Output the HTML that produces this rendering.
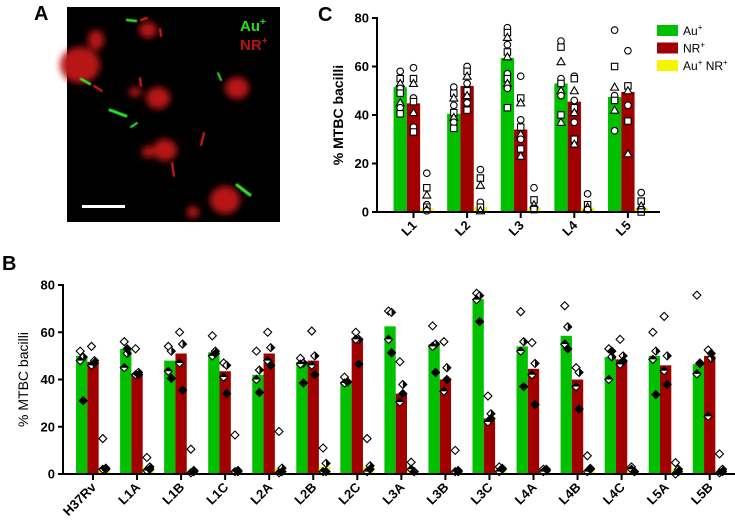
<!DOCTYPE html>
<html><head><meta charset="utf-8"><style>
body{margin:0;background:#fff;width:735px;height:530px;overflow:hidden}
svg{display:block;font-family:"Liberation Sans",Arial,sans-serif}
</style></head><body>
<svg id="fig" width="735" height="530" viewBox="0 0 735 530">
<defs>
<filter id="blur3"><feGaussianBlur stdDeviation="3.5"/></filter>
<filter id="blur1"><feGaussianBlur stdDeviation="0.6"/></filter>
</defs>
<g>
<text x="34" y="20" font-size="20" font-weight="bold">A</text>
<rect x="67" y="7" width="213" height="215" fill="#000"/>
<g filter="url(#blur3)" fill="#b81212">
<ellipse cx="80" cy="65" rx="20" ry="18"/><ellipse cx="96" cy="40" rx="8" ry="10"/>
<ellipse cx="148" cy="30" rx="9" ry="8"/><ellipse cx="158" cy="98" rx="12" ry="11"/>
<ellipse cx="165" cy="150" rx="12" ry="11"/><ellipse cx="148" cy="152" rx="6" ry="6"/>
<ellipse cx="237" cy="88" rx="12" ry="11"/><ellipse cx="225" cy="200" rx="15" ry="14"/>
<ellipse cx="193" cy="212" rx="6" ry="6"/><ellipse cx="135" cy="92" rx="6" ry="5"/>
</g>
<g stroke-linecap="round" filter="url(#blur1)">
<line x1="127" y1="20" x2="136" y2="21" stroke="#2ee62e" stroke-width="2.5"/>
<line x1="141" y1="20" x2="147" y2="18" stroke="#e02020" stroke-width="2"/>
<line x1="160" y1="29" x2="161" y2="36" stroke="#e02020" stroke-width="2"/>
<line x1="81" y1="79" x2="90" y2="84" stroke="#2ee62e" stroke-width="2.5"/>
<line x1="94" y1="86" x2="102" y2="91" stroke="#e02020" stroke-width="2"/>
<line x1="140" y1="78" x2="141" y2="86" stroke="#e02020" stroke-width="2"/>
<line x1="110" y1="110" x2="126" y2="116" stroke="#2ee62e" stroke-width="3"/>
<line x1="131" y1="127" x2="137" y2="123" stroke="#2ee62e" stroke-width="2"/>
<line x1="218" y1="73" x2="221" y2="80" stroke="#2ee62e" stroke-width="2"/>
<line x1="204" y1="133" x2="201" y2="145" stroke="#e02020" stroke-width="2"/>
<line x1="172" y1="163" x2="174" y2="176" stroke="#e02020" stroke-width="2"/>
<line x1="237" y1="185" x2="250" y2="195" stroke="#2ee62e" stroke-width="3"/>
</g>
<rect x="82" y="205" width="43" height="3" fill="#fff"/>
<text x="240" y="31" font-size="15" font-weight="bold" fill="#22e022">Au<tspan font-size="10" dy="-6">+</tspan></text>
<text x="240" y="50" font-size="15" font-weight="bold" fill="#b81212">NR<tspan font-size="10" dy="-6">+</tspan></text>
</g>
<text x="318" y="21" font-size="20" font-weight="bold">C</text>
<text x="2" y="270" font-size="20" font-weight="bold">B</text>
<g id="chartC"></g>
<g id="chartB"></g>
</svg>
<script>
// ---- Panel C data ----
const catsC = ["L1","L2","L3","L4","L5"];
const auC = [51.5,40.5,63.5,53,47.5];
const nrC = [44.8,52,34,45.5,49.5];
const bothC = [1.5,2,1.5,1.8,1.5];
const auPtsC = [[58,55,53,51,49,45,43,40.5],[51.5,49,47,44,41,39,37,34.5],[76,74,72,69,66,64,57,55,53,51,43],[70.5,68,62,55,53,50,48,40,37],[75,60,51.5,48,46,42,33.5]];
const nrPtsC = [[59.5,55,53,47,45.5,41,35,33],[60,58,56,53,50,48,45,42],[56,47,45,38,35,32,30,26,23],[56,55,50,46,43,41,37,30,28],[66.5,52,50,44,37.5,24]];
const bothPtsC = [[16,10,7,3,2,1,0.5],[17.5,14,11,4,2,0.5],[10,5,3,1.5,1],[7.5,3,2,1],[8,4.5,2.5,1,0]];
const ticksC = [0,20,40,60,80];
// ---- Panel B data ----
const catsB = ["H37Rv","L1A","L1B","L1C","L2A","L2B","L2C","L3A","L3B","L3C","L4A","L4B","L4C","L5A","L5B"];
const auB = [50,53,48,51.5,42,47.5,39,62.5,55,74,54,58.5,49.5,50,46.5];
const nrB = [47.5,42.5,51,43.5,51,48,57.5,34,40,23.5,44.5,40,48.5,46,50];
const bothB = [2.5,3,1.5,1.5,2.5,3,3,1.5,1.5,2,1.5,2,1.5,2,1.5];
const auPtsB = [[52,49.5,48,31],[56,51,45,53],[54,52,43.5,40.5],[58.5,52,50,51],[52,44,40,34.5],[49,47,46.5,38.5],[41,39,38.5,39],[69,68.4,57,51.3],[62.7,55,54,43],[76.5,75.5,73.8,64.5],[68.7,56,52,37],[71.2,62.3,55,53],[53,49.6,40,52],[60,52,48.5,33.6],[75.7,46.7,42.4,47]];
const nrPtsB = [[54,48,46,47],[53,43,42,42],[60,55,47,35.5],[47,46,41,34],[60,53.5,48,46],[60.5,50,46,42],[60,57,57,46.5],[47.5,37.9,30.4,34],[56,45,35,40],[33,25.5,22,23.5],[55.6,46.8,42,29.4],[45,43,37,27.5],[57,50,46.4,47.8],[66.7,50,43.7,37.9],[52.5,49,24.4,51]];
const bothPtsB = [[15,2.5,2,2],[7,3,1.5,2],[10.5,1.5,0.5,1],[16.5,1.5,1,1],[18,2.5,0.5,1],[11,4.5,1,1],[15,3.5,1,2],[5,1,2,1],[10,1.5,1,1],[3,2.4,1,2],[2,1.4,1,2],[7.7,2.4,1,2],[3,1,2,1],[4.8,2,0,1],[8.5,2,0.5,1]];
const ticksB = [0,20,40,60,80];

const NS="http://www.w3.org/2000/svg";
function mk(parent,tag,attrs){const e=document.createElementNS(NS,tag);for(const k in attrs)e.setAttribute(k,attrs[k]);parent.appendChild(e);return e;}
const GREEN="#00c000",RED="#a00000",YEL="#f5f500";

function marker(g,kind,x,y,i){
  let el;
  if(kind==="c"){
    const s=i%3;
    if(s===0){el=mk(g,"circle",{cx:x,cy:y,r:3.3,fill:"#fff",stroke:"#000","stroke-width":1.1});}
    else if(s===1){el=mk(g,"rect",{x:x-3.2,y:y-3.2,width:6.4,height:6.4,fill:"#fff",stroke:"#000","stroke-width":1.1});}
    else{el=mk(g,"polygon",{points:`${x},${y-4} ${x+4},${y+3} ${x-4},${y+3}`,fill:"#fff",stroke:"#000","stroke-width":1.1});}
  } else {
    el=mk(g,"g",{});
    mk(el,"polygon",{points:`${x},${y-4} ${x+4},${y} ${x},${y+4} ${x-4},${y}`,fill:"#fff",stroke:"#000","stroke-width":1.1});
    const s=i%4;
    if(s===1)mk(el,"polygon",{points:`${x},${y-4} ${x+4},${y} ${x},${y+4}`,fill:"#000"});
    else if(s===2)mk(el,"polygon",{points:`${x-4},${y} ${x},${y-4} ${x+4},${y}`,fill:"#000"});
    else if(s===3)mk(el,"polygon",{points:`${x},${y-4} ${x+4},${y} ${x},${y+4} ${x-4},${y}`,fill:"#000"});
  }
  
  
}

function drawChart(root,o){
  const yS=v=>o.y0-(v/80)*(o.y0-o.y80);
  const xC=i=>o.first+i*o.step;
  const bw=o.bw;
  const series=[[o.au,GREEN,o.auP,-1,"bar-au"],[o.nr,RED,o.nrP,0,"bar-nr"],[o.both,YEL,o.bothP,1,"bar-au-nr"]];
  o.cats.forEach((c,i)=>{
    series.forEach(([vals,col,pts,off,nm])=>{
      const cx=xC(i)+off*bw;
      const r=mk(root,"rect",{x:cx-bw/2,y:yS(vals[i]),width:bw,height:yS(0)-yS(vals[i]),fill:col});
      
      
    });
  });
  o.cats.forEach((c,i)=>{
    series.forEach(([vals,col,pts,off])=>{
      const cx=xC(i)+off*bw;
      pts[i].forEach((v,j)=>marker(root,o.kind,cx+((j%2)?1.5:-1.5)*(o.kind==="c"?0:1),yS(v),j));
    });
  });
  const ya=mk(root,"line",{x1:o.ax,y1:o.y80-1,x2:o.ax,y2:o.y0+1,stroke:"#000","stroke-width":2});
  
  const xa=mk(root,"line",{x1:o.ax-1,y1:o.y0,x2:o.xend,y2:o.y0,stroke:"#000","stroke-width":2});
  
  o.ticks.forEach(t=>{
    mk(root,"line",{x1:o.ax-5,y1:yS(t),x2:o.ax,y2:yS(t),stroke:"#000","stroke-width":2});
    const tl=mk(root,"text",{x:o.ax-8,y:yS(t)+4.5,"text-anchor":"end","font-size":13,"font-weight":"bold"});
    tl.textContent=t;
    
  });
  o.cats.forEach((c,i)=>{
    mk(root,"line",{x1:xC(i),y1:o.y0,x2:xC(i),y2:o.y0+6,stroke:"#000","stroke-width":2});
    const tl=mk(root,"text",{x:xC(i)+4,y:o.y0+14,"text-anchor":"end","font-size":13,"font-weight":"bold",transform:`rotate(-45 ${xC(i)+4} ${o.y0+14})`});
    tl.textContent=c;
    
  });
  const yt=mk(root,"text",{x:o.titleX,y:(o.y0+o.y80)/2,"text-anchor":"middle","font-size":14,"font-weight":o.titleW,transform:`rotate(-90 ${o.titleX} ${(o.y0+o.y80)/2})`});
  yt.textContent="% MTBC bacilli";
  
}

drawChart(document.getElementById("chartC"),{cats:catsC,au:auC,nr:nrC,both:bothC,auP:auPtsC,nrP:nrPtsC,bothP:bothPtsC,ticks:ticksC,
  y0:212,y80:18,ax:377,xend:660,first:413.5,step:53.6,bw:13.3,kind:"c",titleX:343,titleW:"bold"});
drawChart(document.getElementById("chartB"),{cats:catsB,au:auB,nr:nrB,both:bothB,auP:auPtsB,nrP:nrPtsB,bothP:bothPtsB,ticks:ticksB,
  y0:474,y80:285,ax:63,xend:735,first:93,step:44.05,bw:11.3,kind:"b",titleX:28,titleW:"normal"});

const lg=document.getElementById("chartC");
const leg=[["Au","+",GREEN],["NR","+",RED],["Au+ NR","+",YEL]];
leg.forEach((l,i)=>{
  const y=25+i*17.5;
  const r=mk(lg,"rect",{x:657,y:y,width:21,height:11,fill:l[2]});
  
  const t=mk(lg,"text",{x:683,y:y+10,"font-size":12});
  if(i===2){t.innerHTML='Au<tspan font-size="8" dy="-5">+</tspan><tspan dy="5"> NR</tspan><tspan font-size="8" dy="-5">+</tspan>';}
  else{t.innerHTML=l[0]+'<tspan font-size="8" dy="-5">+</tspan>';}
  
});
</script>
</body></html>
